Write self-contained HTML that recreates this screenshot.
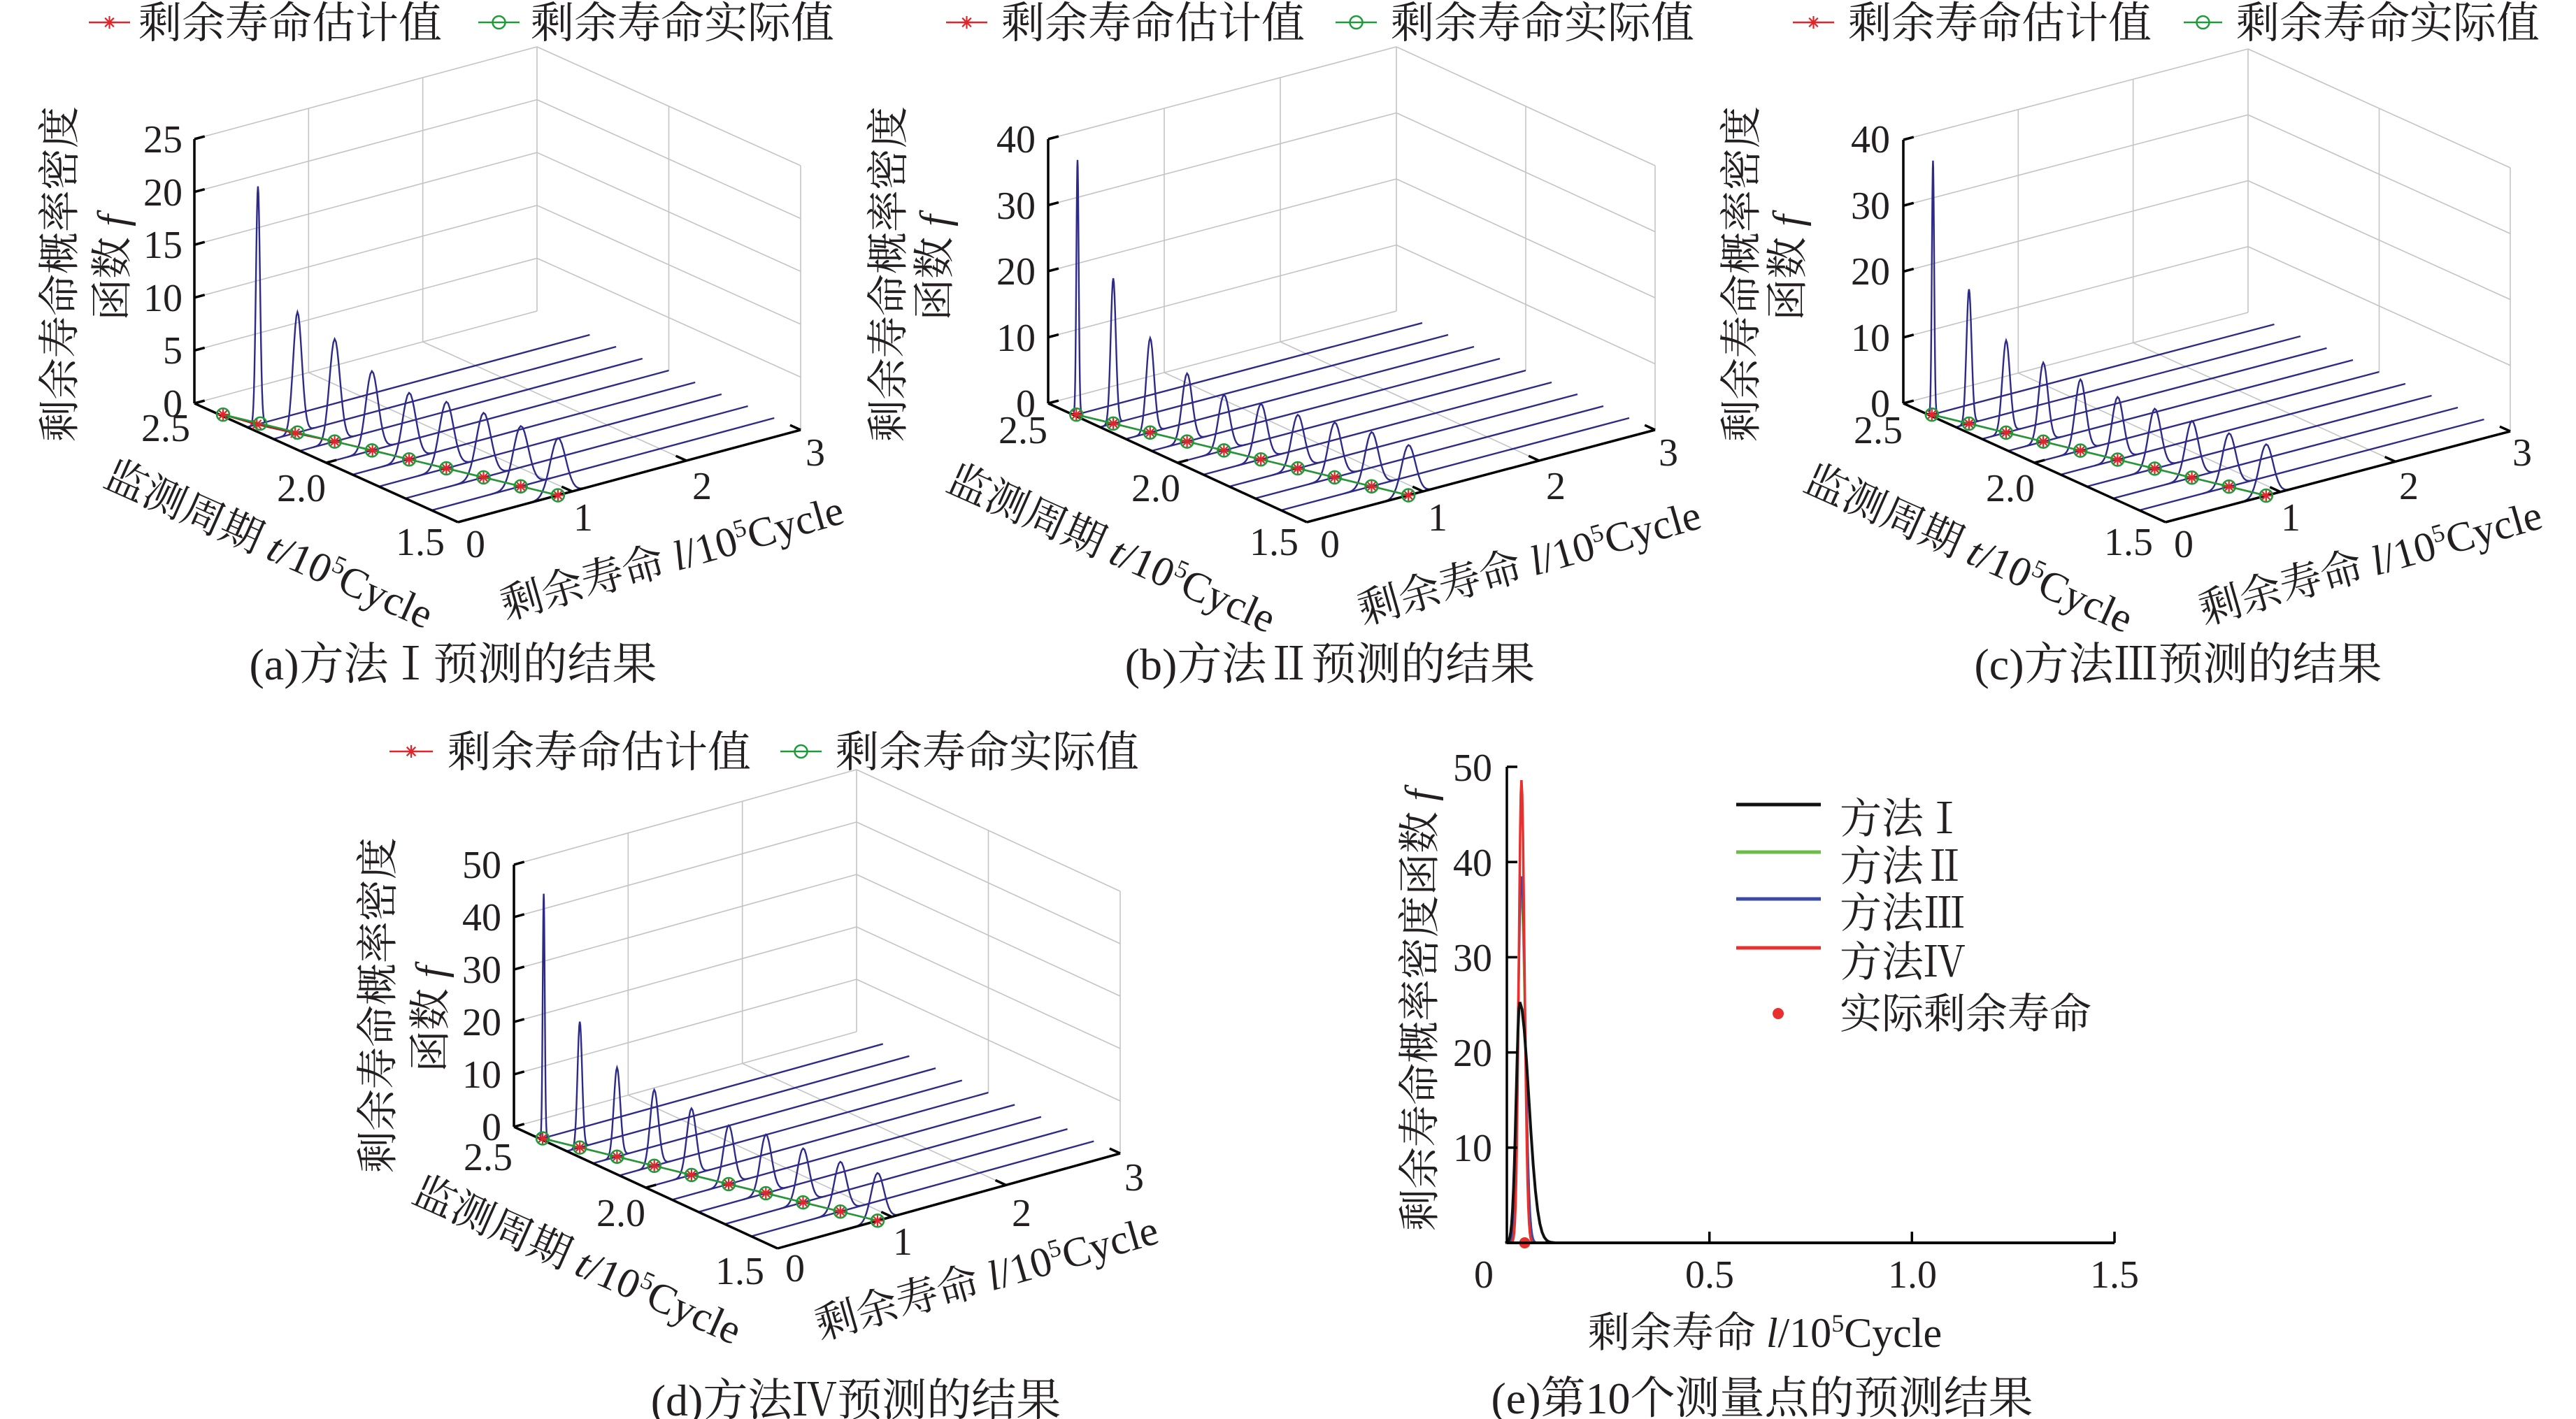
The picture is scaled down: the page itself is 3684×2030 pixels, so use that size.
<!DOCTYPE html>
<html><head><meta charset="utf-8"><style>
html,body{margin:0;padding:0;background:#fff;}
svg{display:block;}
text{font-family:"Liberation Serif","Noto Serif CJK SC",serif;fill:#231f20;}
.w *,.ns{vector-effect:non-scaling-stroke;}
.gr{stroke:#c4c4c4;stroke-width:1.6;fill:none}
.ax{stroke:#000;stroke-width:3.5;fill:none}
.cv{stroke:#2e2a88;stroke-width:2.4;fill:none}
</style></head><body>
<svg xmlns="http://www.w3.org/2000/svg" xmlns:xlink="http://www.w3.org/1999/xlink" width="3684" height="2030" viewBox="0 0 3684 2030">
<defs>
<path id="gs" class="ns" fill="none" d="M-4 0L-3.5 .0022L-3.25 .0051L-3 .0111L-2.75 .0228L-2.5 .0439L-2.25 .0796L-2 .1353L-1.75 .2163L-1.5 .3247L-1.25 .4578L-1 .6065L-.75 .7548L-.5 .8825L-.25 .9692L0 1L.25 .9692L.5 .8825L.75 .7548L1 .6065L1.25 .4578L1.5 .3247L1.75 .2163L2 .1353L2.25 .0796L2.5 .0439L2.75 .0228L3 .0111L3.25 .0051L3.5 .0022L4 0"/>
<path id="gl" class="ns" fill="none" d="M-4 0L-3.5 .0022L-3.25 .0051L-3 .0111L-2.75 .0228L-2.5 .0439L-2.25 .0796L-2 .1353L-1.75 .2163L-1.5 .3247L-1.25 .4578L-1 .6065L-.75 .7548L-.5 .8825L-.25 .9692L0 1"/>
<path id="gr" class="ns" fill="none" d="M0 1L.25 .9692L.5 .8825L.75 .7548L1 .6065L1.25 .4578L1.5 .3247L1.75 .2163L2 .1353L2.25 .0796L2.5 .0439L2.75 .0228L3 .0111L3.25 .0051L3.5 .0022L4 0"/>
<path id="st" d="M-9 0H9M0-9V9M-6.3-6.3L6.3 6.3M-6.3 6.3L6.3-6.3" stroke="#e0262a" stroke-width="2.2" fill="none"/>
<circle id="ci" r="9" fill="none" stroke="#1f9a3a" stroke-width="2.5"/>
</defs>
<rect width="3684" height="2030" fill="#fff"/>

<!-- ================= PANEL A ================= -->
<g class="w">
<g transform="translate(278,577) matrix(163.33,-44,0,-15.12,0,0)" class="gr">
<line x1="0" y1="5" x2="3" y2="5"/><line x1="0" y1="10" x2="3" y2="10"/><line x1="0" y1="15" x2="3" y2="15"/><line x1="0" y1="20" x2="3" y2="20"/><line x1="0" y1="25" x2="3" y2="25"/>
<line x1="1" y1="0" x2="1" y2="25"/><line x1="2" y1="0" x2="2" y2="25"/><line x1="3" y1="0" x2="3" y2="25"/><line x1="0" y1="0" x2="3" y2="0"/>
</g>
<g transform="translate(768,445) matrix(377,170,0,-15.12,0,0)" class="gr">
<line x1="0" y1="5" x2="1" y2="5"/><line x1="0" y1="10" x2="1" y2="10"/><line x1="0" y1="15" x2="1" y2="15"/><line x1="0" y1="20" x2="1" y2="20"/><line x1="0" y1="25" x2="1" y2="25"/>
<line x1=".5" y1="0" x2=".5" y2="25"/><line x1="1" y1="0" x2="1" y2="25"/>
</g>
<g transform="translate(278,577) matrix(377,170,163.33,-44,0,0)" class="gr">
<line x1=".5" y1="0" x2=".5" y2="3"/><line x1="0" y1="1" x2="1" y2="1"/><line x1="0" y1="2" x2="1" y2="2"/>
</g>
<g transform="translate(278,577)" class="cv">
<g transform="translate(75.4,34) matrix(163.33,-44,0,-15.12,0,0)"><line x1="0" y1="0" x2="3" y2="0"/><use xlink:href="#gs" transform="translate(.095,0) scale(.018,22.5)"/></g>
<g transform="translate(113.1,51) matrix(163.33,-44,0,-15.12,0,0)"><line x1="0" y1="0" x2="3" y2="0"/><use xlink:href="#gs" transform="translate(.21,0) scale(.038,11.4)"/></g>
<g transform="translate(150.8,68) matrix(163.33,-44,0,-15.12,0,0)"><line x1="0" y1="0" x2="3" y2="0"/><use xlink:href="#gs" transform="translate(.305,0) scale(.046,9.7)"/></g>
<g transform="translate(188.5,85) matrix(163.33,-44,0,-15.12,0,0)"><line x1="0" y1="0" x2="3" y2="0"/><use xlink:href="#gs" transform="translate(.40,0) scale(.054,7.5)"/></g>
<g transform="translate(226.2,102) matrix(163.33,-44,0,-15.12,0,0)"><line x1="0" y1="0" x2="3" y2="0"/><use xlink:href="#gs" transform="translate(.495,0) scale(.058,6.3)"/></g>
<g transform="translate(263.9,119) matrix(163.33,-44,0,-15.12,0,0)"><line x1="0" y1="0" x2="3" y2="0"/><use xlink:href="#gs" transform="translate(.59,0) scale(.062,6.3)"/></g>
<g transform="translate(301.6,136) matrix(163.33,-44,0,-15.12,0,0)"><line x1="0" y1="0" x2="3" y2="0"/><use xlink:href="#gs" transform="translate(.685,0) scale(.064,6.1)"/></g>
<g transform="translate(339.3,153) matrix(163.33,-44,0,-15.12,0,0)"><line x1="0" y1="0" x2="3" y2="0"/><use xlink:href="#gs" transform="translate(.78,0) scale(.066,5.7)"/></g>
<g transform="translate(377,170) matrix(163.33,-44,0,-15.12,0,0)"><line x1="0" y1="0" x2="3" y2="0"/><use xlink:href="#gs" transform="translate(.875,0) scale(.068,5.4)"/></g>
</g>
<g transform="translate(278,577) matrix(163.33,-44,0,-15.12,0,0)" class="ax">
<line x1="0" y1="0" x2="0" y2="25"/><line x1="0" y1="0" x2=".09" y2="0"/><line x1="0" y1="5" x2=".09" y2="5"/><line x1="0" y1="10" x2=".09" y2="10"/><line x1="0" y1="15" x2=".09" y2="15"/><line x1="0" y1="20" x2=".09" y2="20"/><line x1="0" y1="25" x2=".09" y2="25"/>
</g>
<g transform="translate(278,577) matrix(377,170,163.33,-44,0,0)" class="ax">
<line x1="0" y1="0" x2="1" y2="0"/><line x1="1" y1="0" x2="1" y2="3"/>
<line x1=".5" y1="0" x2=".5" y2=".09"/><line x1="1" y1="1" x2=".96" y2="1"/><line x1="1" y1="2" x2=".96" y2="2"/><line x1="1" y1="3" x2=".96" y2="3"/>
</g>
</g>
<polyline points="319,593.1 367.3,607.2 422.1,619.7 478.6,631.6 532.7,644.2 585.1,657.2 638.3,670 691.5,682.9 744.7,695.7 797.9,708.5" fill="none" stroke="#b02020" stroke-width="2.5"/>
<polyline points="319,593.1 372.2,605.9 425.4,618.8 478.6,631.6 531.9,644.4 585.1,657.2 638.3,670 691.5,682.9 744.7,695.7 797.9,708.5" fill="none" stroke="#1f9a3a" stroke-width="2.5"/>
<use xlink:href="#st" x="319" y="593.1"/><use xlink:href="#st" x="367.3" y="607.2"/><use xlink:href="#st" x="422.1" y="619.7"/><use xlink:href="#st" x="478.6" y="631.6"/><use xlink:href="#st" x="532.7" y="644.2"/><use xlink:href="#st" x="585.1" y="657.2"/><use xlink:href="#st" x="638.3" y="670"/><use xlink:href="#st" x="691.5" y="682.9"/><use xlink:href="#st" x="744.7" y="695.7"/><use xlink:href="#st" x="797.9" y="708.5"/>
<use xlink:href="#ci" x="319" y="593.1"/><use xlink:href="#ci" x="372.2" y="605.9"/><use xlink:href="#ci" x="425.4" y="618.8"/><use xlink:href="#ci" x="478.6" y="631.6"/><use xlink:href="#ci" x="531.9" y="644.4"/><use xlink:href="#ci" x="585.1" y="657.2"/><use xlink:href="#ci" x="638.3" y="670"/><use xlink:href="#ci" x="691.5" y="682.9"/><use xlink:href="#ci" x="744.7" y="695.7"/><use xlink:href="#ci" x="797.9" y="708.5"/>

<!-- ================= PANEL B ================= -->
<g class="w">
<g transform="translate(1499,577) matrix(166,-44,0,-9.45,0,0)" class="gr">
<line x1="0" y1="10" x2="3" y2="10"/><line x1="0" y1="20" x2="3" y2="20"/><line x1="0" y1="30" x2="3" y2="30"/><line x1="0" y1="40" x2="3" y2="40"/>
<line x1="1" y1="0" x2="1" y2="40"/><line x1="2" y1="0" x2="2" y2="40"/><line x1="3" y1="0" x2="3" y2="40"/><line x1="0" y1="0" x2="3" y2="0"/>
</g>
<g transform="translate(1997,445) matrix(370,170,0,-9.45,0,0)" class="gr">
<line x1="0" y1="10" x2="1" y2="10"/><line x1="0" y1="20" x2="1" y2="20"/><line x1="0" y1="30" x2="1" y2="30"/><line x1="0" y1="40" x2="1" y2="40"/>
<line x1=".5" y1="0" x2=".5" y2="40"/><line x1="1" y1="0" x2="1" y2="40"/>
</g>
<g transform="translate(1499,577) matrix(370,170,166,-44,0,0)" class="gr">
<line x1=".5" y1="0" x2=".5" y2="3"/><line x1="0" y1="1" x2="1" y2="1"/><line x1="0" y1="2" x2="1" y2="2"/>
</g>
<g transform="translate(1499,577)" class="cv">
<g transform="translate(37,17) matrix(166,-44,0,-9.45,0,0)"><line x1="0" y1="0" x2="3" y2="0"/><use xlink:href="#gs" transform="translate(.03,0) scale(.01,38.5)"/></g>
<g transform="translate(74,34) matrix(166,-44,0,-9.45,0,0)"><line x1="0" y1="0" x2="3" y2="0"/><use xlink:href="#gs" transform="translate(.115,0) scale(.022,22)"/></g>
<g transform="translate(111,51) matrix(166,-44,0,-9.45,0,0)"><line x1="0" y1="0" x2="3" y2="0"/><use xlink:href="#gs" transform="translate(.21,0) scale(.033,14.3)"/></g>
<g transform="translate(148,68) matrix(166,-44,0,-9.45,0,0)"><line x1="0" y1="0" x2="3" y2="0"/><use xlink:href="#gs" transform="translate(.305,0) scale(.043,10.3)"/></g>
<g transform="translate(185,85) matrix(166,-44,0,-9.45,0,0)"><line x1="0" y1="0" x2="3" y2="0"/><use xlink:href="#gs" transform="translate(.40,0) scale(.048,8.4)"/></g>
<g transform="translate(222,102) matrix(166,-44,0,-9.45,0,0)"><line x1="0" y1="0" x2="3" y2="0"/><use xlink:href="#gs" transform="translate(.495,0) scale(.052,8.4)"/></g>
<g transform="translate(259,119) matrix(166,-44,0,-9.45,0,0)"><line x1="0" y1="0" x2="3" y2="0"/><use xlink:href="#gs" transform="translate(.59,0) scale(.054,8.1)"/></g>
<g transform="translate(296,136) matrix(166,-44,0,-9.45,0,0)"><line x1="0" y1="0" x2="3" y2="0"/><use xlink:href="#gs" transform="translate(.685,0) scale(.056,8.3)"/></g>
<g transform="translate(333,153) matrix(166,-44,0,-9.45,0,0)"><line x1="0" y1="0" x2="3" y2="0"/><use xlink:href="#gs" transform="translate(.78,0) scale(.058,8.2)"/></g>
<g transform="translate(370,170) matrix(166,-44,0,-9.45,0,0)"><line x1="0" y1="0" x2="3" y2="0"/><use xlink:href="#gs" transform="translate(.875,0) scale(.06,7.6)"/></g>
</g>
<g transform="translate(1499,577) matrix(166,-44,0,-9.45,0,0)" class="ax">
<line x1="0" y1="0" x2="0" y2="40"/><line x1="0" y1="0" x2=".09" y2="0"/><line x1="0" y1="10" x2=".09" y2="10"/><line x1="0" y1="20" x2=".09" y2="20"/><line x1="0" y1="30" x2=".09" y2="30"/><line x1="0" y1="40" x2=".09" y2="40"/>
</g>
<g transform="translate(1499,577) matrix(370,170,166,-44,0,0)" class="ax">
<line x1="0" y1="0" x2="1" y2="0"/><line x1="1" y1="0" x2="1" y2="3"/>
<line x1=".5" y1="0" x2=".5" y2=".09"/><line x1="1" y1="1" x2=".96" y2="1"/><line x1="1" y1="2" x2=".96" y2="2"/><line x1="1" y1="3" x2=".96" y2="3"/>
</g>
</g>
<polyline points="1539.3,593.1 1592.1,605.9 1644.8,618.8 1697.6,631.6 1750.4,644.4 1803.2,657.2 1855.9,670 1908.7,682.9 1961.5,695.7 2014.2,708.5" fill="none" stroke="#b02020" stroke-width="2.5"/>
<polyline points="1539.3,593.1 1592.1,605.9 1644.8,618.8 1697.6,631.6 1750.4,644.4 1803.2,657.2 1855.9,670 1908.7,682.9 1961.5,695.7 2014.2,708.5" fill="none" stroke="#1f9a3a" stroke-width="2.5"/>
<use xlink:href="#st" x="1539.3" y="593.1"/><use xlink:href="#st" x="1592.1" y="605.9"/><use xlink:href="#st" x="1644.8" y="618.8"/><use xlink:href="#st" x="1697.6" y="631.6"/><use xlink:href="#st" x="1750.4" y="644.4"/><use xlink:href="#st" x="1803.2" y="657.2"/><use xlink:href="#st" x="1855.9" y="670"/><use xlink:href="#st" x="1908.7" y="682.9"/><use xlink:href="#st" x="1961.5" y="695.7"/><use xlink:href="#st" x="2014.2" y="708.5"/>
<use xlink:href="#ci" x="1539.3" y="593.1"/><use xlink:href="#ci" x="1592.1" y="605.9"/><use xlink:href="#ci" x="1644.8" y="618.8"/><use xlink:href="#ci" x="1697.6" y="631.6"/><use xlink:href="#ci" x="1750.4" y="644.4"/><use xlink:href="#ci" x="1803.2" y="657.2"/><use xlink:href="#ci" x="1855.9" y="670"/><use xlink:href="#ci" x="1908.7" y="682.9"/><use xlink:href="#ci" x="1961.5" y="695.7"/><use xlink:href="#ci" x="2014.2" y="708.5"/>

<!-- ================= PANEL C ================= -->
<g class="w">
<g transform="translate(2722,577) matrix(164.33,-43.33,0,-9.425,0,0)" class="gr">
<line x1="0" y1="10" x2="3" y2="10"/><line x1="0" y1="20" x2="3" y2="20"/><line x1="0" y1="30" x2="3" y2="30"/><line x1="0" y1="40" x2="3" y2="40"/>
<line x1="1" y1="0" x2="1" y2="40"/><line x1="2" y1="0" x2="2" y2="40"/><line x1="3" y1="0" x2="3" y2="40"/><line x1="0" y1="0" x2="3" y2="0"/>
</g>
<g transform="translate(3215,447) matrix(375,170,0,-9.425,0,0)" class="gr">
<line x1="0" y1="10" x2="1" y2="10"/><line x1="0" y1="20" x2="1" y2="20"/><line x1="0" y1="30" x2="1" y2="30"/><line x1="0" y1="40" x2="1" y2="40"/>
<line x1=".5" y1="0" x2=".5" y2="40"/><line x1="1" y1="0" x2="1" y2="40"/>
</g>
<g transform="translate(2722,577) matrix(375,170,164.33,-43.33,0,0)" class="gr">
<line x1=".5" y1="0" x2=".5" y2="3"/><line x1="0" y1="1" x2="1" y2="1"/><line x1="0" y1="2" x2="1" y2="2"/>
</g>
<g transform="translate(2722,577)" class="cv">
<g transform="translate(37.5,17) matrix(164.33,-43.33,0,-9.425,0,0)"><line x1="0" y1="0" x2="3" y2="0"/><use xlink:href="#gs" transform="translate(.03,0) scale(.01,38.5)"/></g>
<g transform="translate(75,34) matrix(164.33,-43.33,0,-9.425,0,0)"><line x1="0" y1="0" x2="3" y2="0"/><use xlink:href="#gs" transform="translate(.115,0) scale(.022,20.4)"/></g>
<g transform="translate(112.5,51) matrix(164.33,-43.33,0,-9.425,0,0)"><line x1="0" y1="0" x2="3" y2="0"/><use xlink:href="#gs" transform="translate(.21,0) scale(.033,14)"/></g>
<g transform="translate(150,68) matrix(164.33,-43.33,0,-9.425,0,0)"><line x1="0" y1="0" x2="3" y2="0"/><use xlink:href="#gs" transform="translate(.305,0) scale(.04,12)"/></g>
<g transform="translate(187.5,85) matrix(164.33,-43.33,0,-9.425,0,0)"><line x1="0" y1="0" x2="3" y2="0"/><use xlink:href="#gs" transform="translate(.40,0) scale(.046,10.8)"/></g>
<g transform="translate(225,102) matrix(164.33,-43.33,0,-9.425,0,0)"><line x1="0" y1="0" x2="3" y2="0"/><use xlink:href="#gs" transform="translate(.495,0) scale(.05,9.5)"/></g>
<g transform="translate(262.5,119) matrix(164.33,-43.33,0,-9.425,0,0)"><line x1="0" y1="0" x2="3" y2="0"/><use xlink:href="#gs" transform="translate(.59,0) scale(.054,9.1)"/></g>
<g transform="translate(300,136) matrix(164.33,-43.33,0,-9.425,0,0)"><line x1="0" y1="0" x2="3" y2="0"/><use xlink:href="#gs" transform="translate(.685,0) scale(.056,8.6)"/></g>
<g transform="translate(337.5,153) matrix(164.33,-43.33,0,-9.425,0,0)"><line x1="0" y1="0" x2="3" y2="0"/><use xlink:href="#gs" transform="translate(.78,0) scale(.058,8.1)"/></g>
<g transform="translate(375,170) matrix(164.33,-43.33,0,-9.425,0,0)"><line x1="0" y1="0" x2="3" y2="0"/><use xlink:href="#gs" transform="translate(.875,0) scale(.06,7.8)"/></g>
</g>
<g transform="translate(2722,577) matrix(164.33,-43.33,0,-9.425,0,0)" class="ax">
<line x1="0" y1="0" x2="0" y2="40"/><line x1="0" y1="0" x2=".09" y2="0"/><line x1="0" y1="10" x2=".09" y2="10"/><line x1="0" y1="20" x2=".09" y2="20"/><line x1="0" y1="30" x2=".09" y2="30"/><line x1="0" y1="40" x2=".09" y2="40"/>
</g>
<g transform="translate(2722,577) matrix(375,170,164.33,-43.33,0,0)" class="ax">
<line x1="0" y1="0" x2="1" y2="0"/><line x1="1" y1="0" x2="1" y2="3"/>
<line x1=".5" y1="0" x2=".5" y2=".09"/><line x1="1" y1="1" x2=".96" y2="1"/><line x1="1" y1="2" x2=".96" y2="2"/><line x1="1" y1="3" x2=".96" y2="3"/>
</g>
</g>
<polyline points="2762.8,593.1 2815.9,606 2869,618.9 2922.1,631.7 2975.2,644.6 3028.4,657.5 3081.5,670.4 3134.6,683.3 3187.7,696.1 3240.8,709" fill="none" stroke="#b02020" stroke-width="2.5"/>
<polyline points="2762.8,593.1 2815.9,606 2869,618.9 2922.1,631.7 2975.2,644.6 3028.4,657.5 3081.5,670.4 3134.6,683.3 3187.7,696.1 3240.8,709" fill="none" stroke="#1f9a3a" stroke-width="2.5"/>
<use xlink:href="#st" x="2762.8" y="593.1"/><use xlink:href="#st" x="2815.9" y="606"/><use xlink:href="#st" x="2869" y="618.9"/><use xlink:href="#st" x="2922.1" y="631.7"/><use xlink:href="#st" x="2975.2" y="644.6"/><use xlink:href="#st" x="3028.4" y="657.5"/><use xlink:href="#st" x="3081.5" y="670.4"/><use xlink:href="#st" x="3134.6" y="683.3"/><use xlink:href="#st" x="3187.7" y="696.1"/><use xlink:href="#st" x="3240.8" y="709"/>
<use xlink:href="#ci" x="2762.8" y="593.1"/><use xlink:href="#ci" x="2815.9" y="606"/><use xlink:href="#ci" x="2869" y="618.9"/><use xlink:href="#ci" x="2922.1" y="631.7"/><use xlink:href="#ci" x="2975.2" y="644.6"/><use xlink:href="#ci" x="3028.4" y="657.5"/><use xlink:href="#ci" x="3081.5" y="670.4"/><use xlink:href="#ci" x="3134.6" y="683.3"/><use xlink:href="#ci" x="3187.7" y="696.1"/><use xlink:href="#ci" x="3240.8" y="709"/>

<!-- ================= PANEL D ================= -->
<g class="w">
<g transform="translate(735,1612) matrix(163.33,-45.33,0,-7.5,0,0)" class="gr">
<line x1="0" y1="10" x2="3" y2="10"/><line x1="0" y1="20" x2="3" y2="20"/><line x1="0" y1="30" x2="3" y2="30"/><line x1="0" y1="40" x2="3" y2="40"/><line x1="0" y1="50" x2="3" y2="50"/>
<line x1="1" y1="0" x2="1" y2="50"/><line x1="2" y1="0" x2="2" y2="50"/><line x1="3" y1="0" x2="3" y2="50"/><line x1="0" y1="0" x2="3" y2="0"/>
</g>
<g transform="translate(1225,1476) matrix(377,174,0,-7.5,0,0)" class="gr">
<line x1="0" y1="10" x2="1" y2="10"/><line x1="0" y1="20" x2="1" y2="20"/><line x1="0" y1="30" x2="1" y2="30"/><line x1="0" y1="40" x2="1" y2="40"/><line x1="0" y1="50" x2="1" y2="50"/>
<line x1=".5" y1="0" x2=".5" y2="50"/><line x1="1" y1="0" x2="1" y2="50"/>
</g>
<g transform="translate(735,1612) matrix(377,174,163.33,-45.33,0,0)" class="gr">
<line x1=".5" y1="0" x2=".5" y2="3"/><line x1="0" y1="1" x2="1" y2="1"/><line x1="0" y1="2" x2="1" y2="2"/>
</g>
<g transform="translate(735,1612)" class="cv">
<g transform="translate(37.7,17.4) matrix(163.33,-45.33,0,-7.5,0,0)"><line x1="0" y1="0" x2="3" y2="0"/><use xlink:href="#gs" transform="translate(.03,0) scale(.009,46.6)"/></g>
<g transform="translate(75.4,34.8) matrix(163.33,-45.33,0,-7.5,0,0)"><line x1="0" y1="0" x2="3" y2="0"/><use xlink:href="#gs" transform="translate(.115,0) scale(.02,24)"/></g>
<g transform="translate(113.1,52.2) matrix(163.33,-45.33,0,-7.5,0,0)"><line x1="0" y1="0" x2="3" y2="0"/><use xlink:href="#gs" transform="translate(.21,0) scale(.028,17)"/></g>
<g transform="translate(150.8,69.6) matrix(163.33,-45.33,0,-7.5,0,0)"><line x1="0" y1="0" x2="3" y2="0"/><use xlink:href="#gs" transform="translate(.305,0) scale(.036,14.5)"/></g>
<g transform="translate(188.5,87) matrix(163.33,-45.33,0,-7.5,0,0)"><line x1="0" y1="0" x2="3" y2="0"/><use xlink:href="#gs" transform="translate(.40,0) scale(.041,12.7)"/></g>
<g transform="translate(226.2,104.4) matrix(163.33,-45.33,0,-7.5,0,0)"><line x1="0" y1="0" x2="3" y2="0"/><use xlink:href="#gs" transform="translate(.495,0) scale(.046,11.2)"/></g>
<g transform="translate(263.9,121.8) matrix(163.33,-45.33,0,-7.5,0,0)"><line x1="0" y1="0" x2="3" y2="0"/><use xlink:href="#gs" transform="translate(.59,0) scale(.049,11.2)"/></g>
<g transform="translate(301.6,139.2) matrix(163.33,-45.33,0,-7.5,0,0)"><line x1="0" y1="0" x2="3" y2="0"/><use xlink:href="#gs" transform="translate(.685,0) scale(.051,10.3)"/></g>
<g transform="translate(339.3,156.6) matrix(163.33,-45.33,0,-7.5,0,0)"><line x1="0" y1="0" x2="3" y2="0"/><use xlink:href="#gs" transform="translate(.78,0) scale(.054,9.5)"/></g>
<g transform="translate(377,174) matrix(163.33,-45.33,0,-7.5,0,0)"><line x1="0" y1="0" x2="3" y2="0"/><use xlink:href="#gs" transform="translate(.875,0) scale(.056,9.1)"/></g>
</g>
<g transform="translate(735,1612) matrix(163.33,-45.33,0,-7.5,0,0)" class="ax">
<line x1="0" y1="0" x2="0" y2="50"/><line x1="0" y1="0" x2=".09" y2="0"/><line x1="0" y1="10" x2=".09" y2="10"/><line x1="0" y1="20" x2=".09" y2="20"/><line x1="0" y1="30" x2=".09" y2="30"/><line x1="0" y1="40" x2=".09" y2="40"/><line x1="0" y1="50" x2=".09" y2="50"/>
</g>
<g transform="translate(735,1612) matrix(377,174,163.33,-45.33,0,0)" class="ax">
<line x1="0" y1="0" x2="1" y2="0"/><line x1="1" y1="0" x2="1" y2="3"/>
<line x1=".5" y1="0" x2=".5" y2=".09"/><line x1="1" y1="1" x2=".96" y2="1"/><line x1="1" y1="2" x2=".96" y2="2"/><line x1="1" y1="3" x2=".96" y2="3"/>
</g>
</g>
<polyline points="776,1628.5 829.2,1641.6 882.4,1654.7 935.7,1667.8 988.9,1680.9 1042.1,1694 1095.3,1707 1148.5,1720.1 1201.8,1733.2 1255,1746.3" fill="none" stroke="#b02020" stroke-width="2.5"/>
<polyline points="776,1628.5 829.2,1641.6 882.4,1654.7 935.7,1667.8 988.9,1680.9 1042.1,1694 1095.3,1707 1148.5,1720.1 1201.8,1733.2 1255,1746.3" fill="none" stroke="#1f9a3a" stroke-width="2.5"/>
<use xlink:href="#st" x="776" y="1628.5"/><use xlink:href="#st" x="829.2" y="1641.6"/><use xlink:href="#st" x="882.4" y="1654.7"/><use xlink:href="#st" x="935.7" y="1667.8"/><use xlink:href="#st" x="988.9" y="1680.9"/><use xlink:href="#st" x="1042.1" y="1694"/><use xlink:href="#st" x="1095.3" y="1707"/><use xlink:href="#st" x="1148.5" y="1720.1"/><use xlink:href="#st" x="1201.8" y="1733.2"/><use xlink:href="#st" x="1255" y="1746.3"/>
<use xlink:href="#ci" x="776" y="1628.5"/><use xlink:href="#ci" x="829.2" y="1641.6"/><use xlink:href="#ci" x="882.4" y="1654.7"/><use xlink:href="#ci" x="935.7" y="1667.8"/><use xlink:href="#ci" x="988.9" y="1680.9"/><use xlink:href="#ci" x="1042.1" y="1694"/><use xlink:href="#ci" x="1095.3" y="1707"/><use xlink:href="#ci" x="1148.5" y="1720.1"/><use xlink:href="#ci" x="1201.8" y="1733.2"/><use xlink:href="#ci" x="1255" y="1746.3"/>

<!-- legend samples -->
<g stroke-width="2.5">
<line x1="127" y1="32" x2="186" y2="32" stroke="#e0262a"/><use xlink:href="#st" x="156.5" y="32"/>
<line x1="684" y1="32" x2="743" y2="32" stroke="#1f9a3a"/><use xlink:href="#ci" x="713.5" y="32"/>
<line x1="1353" y1="32" x2="1412" y2="32" stroke="#e0262a"/><use xlink:href="#st" x="1382.5" y="32"/>
<line x1="1910" y1="32" x2="1969" y2="32" stroke="#1f9a3a"/><use xlink:href="#ci" x="1939.5" y="32"/>
<line x1="2564" y1="32" x2="2623" y2="32" stroke="#e0262a"/><use xlink:href="#st" x="2593.5" y="32"/>
<line x1="3123" y1="32" x2="3178" y2="32" stroke="#1f9a3a"/><use xlink:href="#ci" x="3150.5" y="32"/>
<line x1="557" y1="1075" x2="619" y2="1075" stroke="#e0262a"/><use xlink:href="#st" x="588" y="1075"/>
<line x1="1116" y1="1075" x2="1175" y2="1075" stroke="#1f9a3a"/><use xlink:href="#ci" x="1145.5" y="1075"/>
</g>

<!-- ================= PANEL E ================= -->
<g class="w" transform="matrix(579.3,0,0,-13.62,2155,1778)" fill="none">
<g stroke="#6cbd45" stroke-width="3"><use xlink:href="#gl" transform="translate(.035,0) scale(.0085,37)"/><use xlink:href="#gr" transform="translate(.035,0) scale(.01,37)"/></g>
<g stroke="#3a4aa8" stroke-width="3"><use xlink:href="#gl" transform="translate(.036,0) scale(.008,38.5)"/><use xlink:href="#gr" transform="translate(.036,0) scale(.0095,38.5)"/></g>
<g stroke="#e8302e" stroke-width="3.5"><use xlink:href="#gl" transform="translate(.036,0) scale(.0065,48.6)"/><use xlink:href="#gr" transform="translate(.036,0) scale(.0075,48.6)"/></g>
<g stroke="#111" stroke-width="4"><use xlink:href="#gl" transform="translate(.032,0) scale(.009,25.3)"/><use xlink:href="#gr" transform="translate(.032,0) scale(.022,25.3)"/><line x1="0" y1="0" x2="1.5" y2="0"/></g>
</g>
<circle cx="2180.5" cy="1778" r="8" fill="#e8302e"/>
<g stroke="#000" stroke-width="3.5">
<line x1="2155" y1="1097" x2="2155" y2="1778"/><line x1="2155" y1="1778" x2="3024" y2="1778"/>
<line x1="2155" y1="1641.8" x2="2170" y2="1641.8"/><line x1="2155" y1="1505.6" x2="2170" y2="1505.6"/><line x1="2155" y1="1369.4" x2="2170" y2="1369.4"/><line x1="2155" y1="1233.2" x2="2170" y2="1233.2"/><line x1="2155" y1="1097" x2="2170" y2="1097"/>
<line x1="2444.7" y1="1778" x2="2444.7" y2="1762"/><line x1="2734.3" y1="1778" x2="2734.3" y2="1762"/><line x1="3024" y1="1778" x2="3024" y2="1762"/>
</g>
<g stroke-width="5">
<line x1="2483" y1="1151" x2="2604" y2="1151" stroke="#111"/>
<line x1="2483" y1="1219" x2="2604" y2="1219" stroke="#6cbd45"/>
<line x1="2483" y1="1286" x2="2604" y2="1286" stroke="#3a4aa8"/>
<line x1="2483" y1="1356" x2="2604" y2="1356" stroke="#e8302e"/>
</g>
<circle cx="2543" cy="1450" r="8" fill="#e8302e"/>

<!-- ================= TEXT ================= -->
<g font-size="62">
<text x="198" y="54">剩余寿命估计值</text><text x="759" y="54">剩余寿命实际值</text>
<text x="1432" y="54">剩余寿命估计值</text><text x="1989" y="54">剩余寿命实际值</text>
<text x="2643" y="54">剩余寿命估计值</text><text x="3198" y="54">剩余寿命实际值</text>
<text x="640" y="1097">剩余寿命估计值</text><text x="1195" y="1097">剩余寿命实际值</text>
</g>
<g font-size="56" text-anchor="end">
<text x="261" y="596">0</text><text x="261" y="520">5</text><text x="261" y="445">10</text><text x="261" y="369">15</text><text x="261" y="294">20</text><text x="261" y="218">25</text>
<text x="1481" y="596">0</text><text x="1481" y="502">10</text><text x="1481" y="407">20</text><text x="1481" y="313">30</text><text x="1481" y="218">40</text>
<text x="2703" y="596">0</text><text x="2703" y="502">10</text><text x="2703" y="407">20</text><text x="2703" y="313">30</text><text x="2703" y="218">40</text>
<text x="717" y="1631">0</text><text x="717" y="1556">10</text><text x="717" y="1481">20</text><text x="717" y="1406">30</text><text x="717" y="1331">40</text><text x="717" y="1256">50</text>
</g>
<g font-size="56" text-anchor="middle">
<text x="237" y="631">2.5</text><text x="431" y="717">2.0</text><text x="601" y="794">1.5</text>
<text x="680" y="797">0</text><text x="834" y="759">1</text><text x="1004" y="714">2</text><text x="1166" y="666">3</text>
<text x="1463" y="634">2.5</text><text x="1653" y="717">2.0</text><text x="1822" y="794">1.5</text>
<text x="1902" y="797">0</text><text x="2056" y="759">1</text><text x="2225" y="714">2</text><text x="2386" y="666">3</text>
<text x="2686" y="634">2.5</text><text x="2875" y="717">2.0</text><text x="3044" y="794">1.5</text>
<text x="3123" y="797">0</text><text x="3276" y="759">1</text><text x="3445" y="714">2</text><text x="3607" y="666">3</text>
<text x="698" y="1674">2.5</text><text x="888" y="1754">2.0</text><text x="1058" y="1837">1.5</text>
<text x="1137" y="1833">0</text><text x="1291" y="1795">1</text><text x="1461" y="1754">2</text><text x="1622" y="1703">3</text>
</g>
<g font-size="60" text-anchor="middle">
<text transform="translate(85,392) rotate(-90)" dy="21">剩余寿命概率密度</text>
<text transform="translate(160,383) rotate(-90)" dy="21">函数 <tspan font-style="italic">f</tspan></text>
<text transform="translate(1270,392) rotate(-90)" dy="21">剩余寿命概率密度</text>
<text transform="translate(1336,383) rotate(-90)" dy="21">函数 <tspan font-style="italic">f</tspan></text>
<text transform="translate(2490,392) rotate(-90)" dy="21">剩余寿命概率密度</text>
<text transform="translate(2556,383) rotate(-90)" dy="21">函数 <tspan font-style="italic">f</tspan></text>
<text transform="translate(540,1438) rotate(-90)" dy="21">剩余寿命概率密度</text>
<text transform="translate(615,1458) rotate(-90)" dy="21">函数 <tspan font-style="italic">f</tspan></text>
<text transform="translate(385,778) rotate(24)" dy="21">监测周期 <tspan font-style="italic">t</tspan>/10<tspan font-size="36" dy="-22">5</tspan><tspan dy="22">Cycle</tspan></text>
<text transform="translate(1590,784) rotate(24)" dy="21">监测周期 <tspan font-style="italic">t</tspan>/10<tspan font-size="36" dy="-22">5</tspan><tspan dy="22">Cycle</tspan></text>
<text transform="translate(2816,784) rotate(24)" dy="21">监测周期 <tspan font-style="italic">t</tspan>/10<tspan font-size="36" dy="-22">5</tspan><tspan dy="22">Cycle</tspan></text>
<text transform="translate(826,1802) rotate(24)" dy="21">监测周期 <tspan font-style="italic">t</tspan>/10<tspan font-size="36" dy="-22">5</tspan><tspan dy="22">Cycle</tspan></text>
<text transform="translate(961,797) rotate(-16)" dy="21">剩余寿命 <tspan font-style="italic">l</tspan>/10<tspan font-size="36" dy="-22">5</tspan><tspan dy="22">Cycle</tspan></text>
<text transform="translate(2187,804) rotate(-16)" dy="21">剩余寿命 <tspan font-style="italic">l</tspan>/10<tspan font-size="36" dy="-22">5</tspan><tspan dy="22">Cycle</tspan></text>
<text transform="translate(3390,804) rotate(-16)" dy="21">剩余寿命 <tspan font-style="italic">l</tspan>/10<tspan font-size="36" dy="-22">5</tspan><tspan dy="22">Cycle</tspan></text>
<text transform="translate(1411,1827) rotate(-16)" dy="21">剩余寿命 <tspan font-style="italic">l</tspan>/10<tspan font-size="36" dy="-22">5</tspan><tspan dy="22">Cycle</tspan></text>
</g>
<g font-size="64" text-anchor="middle">
<text x="648" y="972">(a)方法Ⅰ预测的结果</text>
<text x="1902" y="972">(b)方法Ⅱ预测的结果</text>
<text x="3115" y="972">(c)方法Ⅲ预测的结果</text>
<text x="1224" y="2025">(d)方法Ⅳ预测的结果</text>
<text x="2520" y="2022">(e)第10个测量点的预测结果</text>
</g>
<g font-size="56" text-anchor="end">
<text x="2134" y="1661">10</text><text x="2134" y="1525">20</text><text x="2134" y="1389">30</text><text x="2134" y="1253">40</text><text x="2134" y="1117">50</text>
</g>
<g font-size="56" text-anchor="middle">
<text x="2122" y="1842">0</text><text x="2445" y="1842">0.5</text><text x="2735" y="1842">1.0</text><text x="3024" y="1842">1.5</text>
</g>
<g font-size="60">
<text x="2524" y="1927" text-anchor="middle">剩余寿命 <tspan font-style="italic">l</tspan>/10<tspan font-size="36" dy="-22">5</tspan><tspan dy="22">Cycle</tspan></text>
<text transform="translate(2030,1445) rotate(-90)" text-anchor="middle" dy="21">剩余寿命概率密度函数 <tspan font-style="italic">f</tspan></text>
<text x="2631" y="1192">方法Ⅰ</text>
<text x="2631" y="1260">方法Ⅱ</text>
<text x="2631" y="1327">方法Ⅲ</text>
<text x="2631" y="1397">方法Ⅳ</text>
<text x="2631" y="1471">实际剩余寿命</text>
</g>
</svg>
</body></html>
